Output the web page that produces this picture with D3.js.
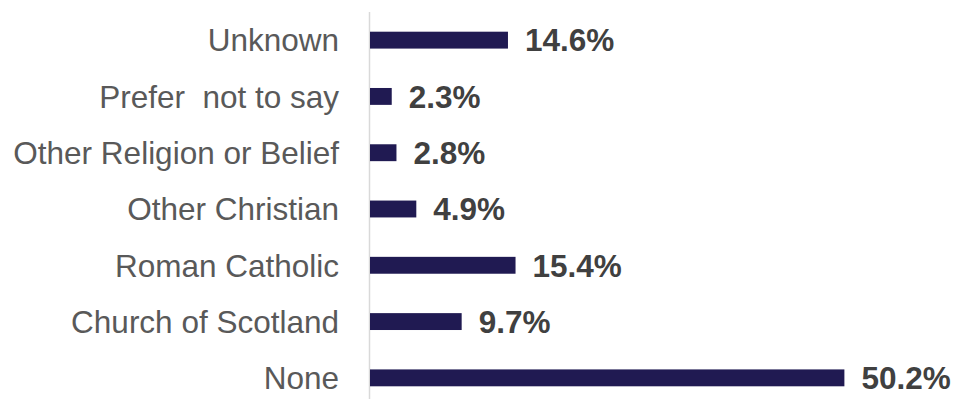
<!DOCTYPE html>
<html>
<head>
<meta charset="utf-8">
<script src="https://cdn.jsdelivr.net/npm/d3@7"></script>
<style>
  body { margin: 0; background: #fff; }
  svg { display: block; }
</style>
</head>
<body>
<svg width="956" height="399"></svg>
<script>
// data
const categories = ["Unknown", "Prefer  not to say", "Other Religion or Belief", "Other Christian",
  "Roman Catholic", "Church of Scotland", "None"];
const values = [14.6, 2.3, 2.8, 4.9, 15.4, 9.7, 50.2];

const svg = d3.select("svg");
const axisX = 370;

const x = d3.scaleLinear().domain([0, 60]).range([axisX, axisX + 567]);
const y = d3.scaleBand().domain(categories).range([12, 406]).paddingInner(0.7).paddingOuter(0.35);

const rows = categories.map(function (c, i) { return { cat: c, val: values[i] }; });

// vertical axis line
svg.append("line")
  .attr("x1", axisX - 0.5).attr("x2", axisX - 0.5)
  .attr("y1", 12).attr("y2", 399)
  .attr("stroke", "#d9d9d9")
  .attr("stroke-width", 1.5);

// bars
svg.append("g")
  .selectAll("rect")
  .data(rows)
  .enter().append("rect")
  .attr("x", x(0))
  .attr("y", function (d) { return y(d.cat); })
  .attr("width", function (d) { return x(d.val) - x(0); })
  .attr("height", y.bandwidth())
  .attr("fill", "#201a52");

// category labels
svg.append("g")
  .selectAll("text")
  .data(rows)
  .enter().append("text")
  .attr("x", 339)
  .attr("y", function (d) { return y(d.cat) + y.bandwidth() / 2; })
  .attr("dy", "0.36em")
  .attr("text-anchor", "end")
  .style("font-family", "'Liberation Sans', Arial, sans-serif")
  .style("font-size", "31.5px")
  .style("white-space", "pre")
  .attr("fill", "#595959")
  .text(function (d) { return d.cat; });

// value labels
svg.append("g")
  .selectAll("text")
  .data(rows)
  .enter().append("text")
  .attr("x", function (d) { return x(d.val) + 17; })
  .attr("y", function (d) { return y(d.cat) + y.bandwidth() / 2; })
  .attr("dy", "0.36em")
  .style("font-family", "'Liberation Sans', Arial, sans-serif")
  .style("font-size", "31.5px")
  .style("font-weight", "bold")
  .attr("fill", "#404040")
  .text(function (d) { return d.val.toFixed(1) + "%"; });
</script>
</body>
</html>
